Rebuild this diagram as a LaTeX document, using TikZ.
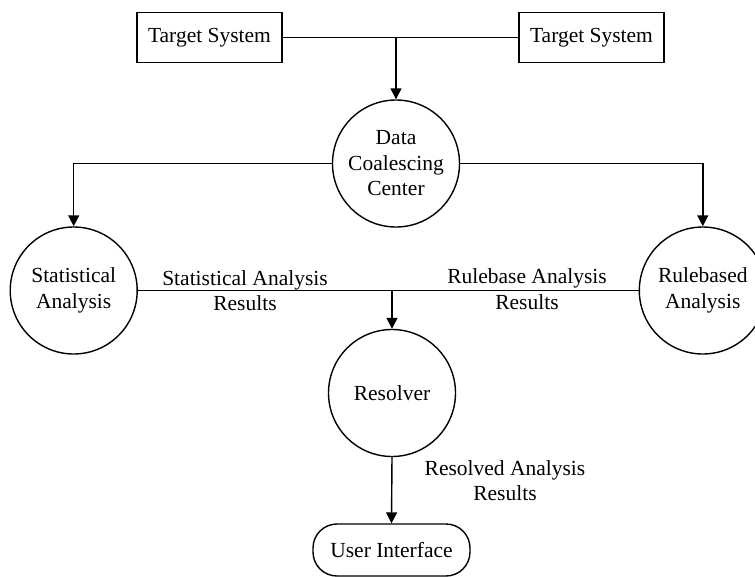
\documentclass[tikz,border=0pt]{standalone}
\usepackage{fontspec}
\setmainfont{Liberation Serif}
\usetikzlibrary{arrows.meta}
\begin{document}
\begin{tikzpicture}[x=1pt,y=-1pt,
  every node/.style={font=\fontsize{21.5}{25.5}\selectfont, align=center, inner sep=0pt},
  line/.style={line width=1.4pt},
  arr/.style={line width=1.4pt, -{Triangle[length=11pt,width=11pt]}},
  box/.style={draw, line width=1.4pt, minimum width=145pt, minimum height=50pt},
  proc/.style={draw, circle, line width=1.4pt, minimum size=127pt},
  term/.style={draw, rounded corners=24pt, line width=1.4pt, minimum width=157pt, minimum height=52pt}
]
\useasboundingbox (0,0) rectangle (755,576);
\clip (0,0) rectangle (755,576);
\node[box] (t1) at (209.5,37.5) {Target System};
\node[box] (t2) at (591.5,37.5) {Target System};
\node[proc] (dcc) at (396,163.5) {Data\\Coalescing\\Center};
\node[proc] (sa) at (73.7,290.5) {Statistical\\Analysis};
\node[proc] (ra) at (702.8,290.5) {Rulebased\\Analysis};
\node[proc] (res) at (392,393) {Resolver};
\node[term] (ui) at (391.5,550) {User Interface};
\coordinate (j1) at (dcc.north |- t1.east);
\coordinate (j2) at (res.north |- sa.east);
\draw[line] (t1.east) -- (t2.west);
\draw[arr] (j1) -- (dcc.north);
\draw[arr] (dcc.west) -| (sa.north);
\draw[arr] (dcc.east) -| (ra.north);
\draw[line] (sa.east) -- (ra.west);
\draw[arr] (j2) -- (res.north);
\draw[arr] (res.south) -- (ui.north);
\node (l1) at (245,290.5) {Statistical Analysis\\Results};
\node (l2) at (527,289) {Rulebase Analysis\\Results};
\node (l3) at (505,480.5) {Resolved Analysis\\Results};
\end{tikzpicture}
\end{document}
